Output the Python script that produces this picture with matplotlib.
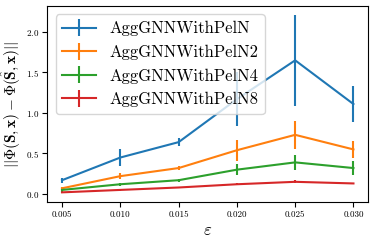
import numpy as np
import matplotlib
matplotlib.use('Agg')
import matplotlib.pyplot as plt

plt.rcParams['font.family'] = 'serif'
plt.rcParams['font.serif'] = ['cmr10']
plt.rcParams['mathtext.fontset'] = 'cm'
plt.rcParams['axes.formatter.use_mathtext'] = True

eps = [0.005, 0.010, 0.015, 0.020, 0.025, 0.030]

names = ['AggGNNWithPelN', 'AggGNNWithPelN2', 'AggGNNWithPelN4', 'AggGNNWithPelN8']

mean_n = [0.17, 0.45, 0.64, 1.17, 1.65, 1.11]
err_n = [0.03, 0.10, 0.05, 0.33, 0.56, 0.22]

mean_n2 = [0.07, 0.22, 0.32, 0.54, 0.73, 0.55]
err_n2 = [0.02, 0.04, 0.03, 0.13, 0.17, 0.10]

mean_n4 = [0.05, 0.12, 0.17, 0.30, 0.39, 0.32]
err_n4 = [0.02, 0.02, 0.02, 0.07, 0.09, 0.09]

mean_n8 = [0.02, 0.05, 0.08, 0.12, 0.15, 0.13]
err_n8 = [0.01, 0.01, 0.01, 0.01, 0.02, 0.01]

means = [mean_n, mean_n2, mean_n4, mean_n8]
errs = [err_n, err_n2, err_n4, err_n8]

fig, ax = plt.subplots(figsize=(3.74, 2.42), dpi=100)
fig.subplots_adjust(left=0.127, right=0.984, top=0.975, bottom=0.165)

for name, m, e in zip(names, means, errs):
    ax.errorbar(eps, m, yerr=e, label=name, linewidth=1.5)

ax.tick_params(labelsize=6.5, pad=2.5)
ax.set_xticks(eps)
ax.set_xticklabels(['0.005', '0.010', '0.015', '0.020', '0.025', '0.030'])
ax.set_xlabel(r'$\varepsilon$', fontsize=12, labelpad=3)
ax.set_ylabel(r'$||\Phi(\mathbf{S},\mathbf{x}) - \Phi(\hat{\mathbf{S}},\mathbf{x})||$',
              fontsize=11, labelpad=2)
ax.legend(fontsize=12, loc='upper left')

plt.savefig('out.png', dpi=100)
